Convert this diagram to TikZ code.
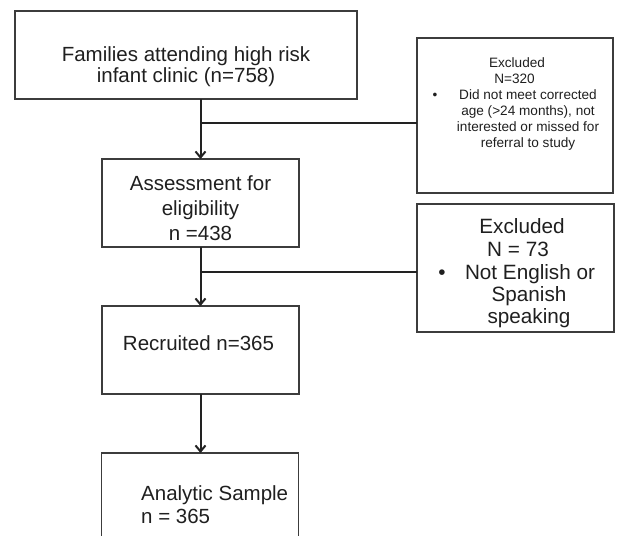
\documentclass[tikz,border=0pt]{standalone}
\usepackage{fontspec}
\setmainfont{Liberation Sans}
\usetikzlibrary{arrows.meta}
\definecolor{boxgray}{HTML}{3C3C3C}
\definecolor{linegray}{HTML}{222222}
\begin{document}
\begin{tikzpicture}[x=1pt,y=-1pt,
  box/.style={draw=boxgray,line width=1.3pt,inner sep=0pt,outer sep=0pt,fill=none},
  mtxt/.style={inner sep=0pt,anchor=base,text=black!88,font=\fontsize{20.5}{22}\selectfont},
  stxt/.style={inner sep=0pt,anchor=base,text=black!88,font=\fontsize{13.6}{16}\selectfont},
  rtxt/.style={inner sep=0pt,anchor=base,text=black!88,font=\fontsize{20.7}{22}\selectfont},
  conn/.style={draw=linegray,line width=2pt},
  arr/.style={conn,-{Straight Barb[length=6pt,width=10pt,line width=2pt]}}]
\useasboundingbox (0,0) rectangle (617,535);
\clip (0,0) rectangle (617,535);
% boxes
\node[box,minimum width=342pt,minimum height=88pt] (b1) at (186,55) {};
\node[box,minimum width=197pt,minimum height=88pt] (b2) at (200.5,203) {};
\node[box,minimum width=197pt,minimum height=88pt] (b3) at (200.5,350) {};
\node[box,minimum width=197pt,minimum height=110pt] (b4) at (200,508) {};
\node[box,minimum width=196pt,minimum height=155pt] (r1) at (515,115.5) {};
\node[box,minimum width=197pt,minimum height=128pt] (r2) at (515.5,268) {};
% texts
\node[mtxt] (t1a) at (186,61) {Families attending high risk};
\node[mtxt] (t1b) at (186,82.5) {infant clinic (n=758)};
\node[mtxt] (t2a) at (200.5,190) {Assessment for};
\node[mtxt] (t2b) at (200.5,215) {eligibility};
\node[mtxt] (t2c) at (200.5,240) {n =438};
\node[mtxt] (t3a) at (198.5,350) {Recruited n=365};
\node[mtxt,anchor=base west] (t4a) at (141,500) {Analytic Sample};
\node[mtxt,anchor=base west] (t4b) at (141,523) {n = 365};
\node[stxt] (r1a) at (517,67) {Excluded};
\node[stxt] (r1b) at (514.5,83) {N=320};
\node[stxt] (r1bul) at (435,99) {•};
\node[stxt] (r1c) at (528,99) {Did not meet corrected};
\node[stxt] (r1d) at (528,115) {age (>24 months), not};
\node[stxt] (r1e) at (528,131) {interested or missed for};
\node[stxt] (r1f) at (528,147) {referral to study};
\node[rtxt] (r2a) at (522,233.5) {Excluded};
\node[rtxt] (r2b) at (518,256.5) {N = 73};
\node[rtxt] (r2bul) at (442,279) {•};
\node[rtxt] (r2c) at (530,279) {Not English or};
\node[rtxt] (r2d) at (529,301) {Spanish};
\node[rtxt] (r2e) at (529,323) {speaking};
% connectors
\coordinate (j1) at (b2.north |- 0,123);
\coordinate (j2) at (b2.south |- 0,272);
\draw[arr] (b2.north |- b1.south) -- (b2.north);
\draw[conn] (j1) -- (j1 -| r1.west);
\draw[arr] (b2.south) -- (b3.north);
\draw[conn] (j2) -- (j2 -| r2.west);
\draw[arr] (b3.south) -- (b3.south |- b4.north);
\end{tikzpicture}
\end{document}
